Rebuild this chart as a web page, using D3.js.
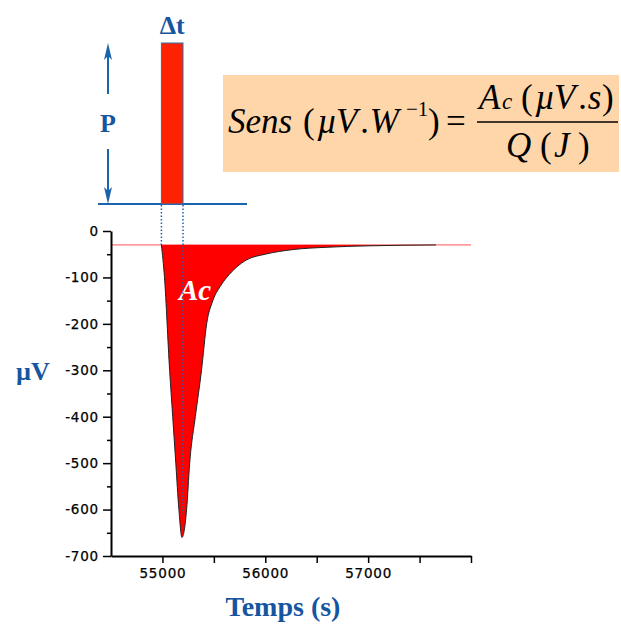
<!DOCTYPE html>
<html>
<head>
<meta charset="utf-8">
<script src="https://cdn.jsdelivr.net/npm/d3@7"></script>
<style>
  body { margin: 0; background: #fff; }
  svg text { font-family: "Liberation Sans", Arial, sans-serif; }
  .tick text { font-family: "DejaVu Sans", Verdana, sans-serif; font-size: 13.5px; fill: #000; letter-spacing: 0.8px; stroke: #000; stroke-width: 0.25px; }
  .serif { font-family: "Liberation Serif", "Times New Roman", serif !important; }
</style>
</head>
<body>
<div id="chart"></div>
<script>
(function() {

    var width = 621, height = 625;

    // signal
    var temps = [54500, 54990, 55020, 55070, 55100, 55130, 55160, 55190, 55235, 55265, 55320,
                 55380, 55430, 55490, 55560, 55625, 55720, 55820, 56000, 56270, 56600, 57000, 57660];
    var signal = [-30, -30, -100, -300, -400, -500, -600, -660, -600, -500, -400,
                  -300, -200, -150, -120, -100, -78, -62, -50, -40, -35, -32, -30];
    var baseline = -30;
    var pulseStart = 54990, pulseEnd = 55200;

    var yMajor = [0, -100, -200, -300, -400, -500, -600, -700];
    var yMinor = [-50, -150, -250, -350, -450, -550, -650];
    var xMajor = [55000, 56000, 57000];
    var xMinor = [55500, 56500, 57500, 58000];

    var blue = "#1a64ad", textBlue = "#1655a0";

    var svg = d3.select("#chart").append("svg")
        .attr("width", width)
        .attr("height", height);

    var x = d3.scaleLinear().domain([54500, 58000]).range([111, 471]);
    var y = d3.scaleLinear().domain([-700, 0]).range([556, 231]);

    var pts = temps.map(function(t, i) { return [t, signal[i]]; });

    // red baseline
    svg.append("line")
        .attr("x1", x(54500)).attr("x2", x(58000))
        .attr("y1", y(baseline)).attr("y2", y(baseline))
        .attr("stroke", "#ff5050").attr("stroke-width", 1);

    var area = d3.area()
        .x(function(d) { return x(d[0]); })
        .y0(y(baseline))
        .y1(function(d) { return y(d[1]); })
        .curve(d3.curveMonotoneX);

    svg.append("path")
        .datum(pts.slice(1))
        .attr("d", area)
        .attr("fill", "#ff0000");

    var line = d3.line()
        .x(function(d) { return x(d[0]); })
        .y(function(d) { return y(d[1]); })
        .curve(d3.curveMonotoneX);

    svg.append("path")
        .datum(pts.slice(1))
        .attr("d", line)
        .attr("fill", "none")
        .attr("stroke", "#222")
        .attr("stroke-width", 1);

    svg.append("text")
        .attr("class", "serif")
        .attr("x", 179).attr("y", 300)
        .attr("fill", "#fff")
        .attr("font-size", 29)
        .attr("font-style", "italic")
        .attr("font-weight", "bold")
        .text("Ac");

    // axes
    var fmt = function(d) { return String(d); };   // plain hyphen minus

    svg.append("g").attr("transform", "translate(" + x(54500) + ",0)")
        .call(d3.axisLeft(y).tickValues(yMajor).tickSize(8).tickSizeOuter(0).tickPadding(4).tickFormat(fmt));
    svg.append("g").attr("transform", "translate(" + x(54500) + ",0)")
        .call(d3.axisLeft(y).tickValues(yMinor).tickSize(4).tickFormat(""))
        .select(".domain").remove();

    svg.append("g").attr("transform", "translate(0," + y(-700) + ")")
        .call(d3.axisBottom(x).tickValues(xMajor).tickSize(7).tickSizeOuter(0).tickPadding(5).tickFormat(fmt));
    svg.append("g").attr("transform", "translate(0," + y(-700) + ")")
        .call(d3.axisBottom(x).tickValues(xMinor).tickSize(7).tickFormat(""))
        .select(".domain").remove();

    svg.selectAll(".domain").attr("stroke-width", 2);
    svg.selectAll(".tick line").attr("stroke-width", 1.5);

    // pulse sketch
    var pulseTop = 43, pulseBase = 204;

    svg.append("line")
        .attr("x1", 98).attr("x2", 247)
        .attr("y1", pulseBase).attr("y2", pulseBase)
        .attr("stroke", blue).attr("stroke-width", 2);

    svg.append("rect")
        .attr("x", x(pulseStart)).attr("y", pulseTop)
        .attr("width", x(pulseEnd) - x(pulseStart))
        .attr("height", pulseBase - pulseTop)
        .attr("fill", "#ff2200")
        .attr("stroke", "#2d6fb0").attr("stroke-width", 1);

    svg.append("line")
        .attr("x1", x(pulseStart)).attr("x2", x(pulseStart))
        .attr("y1", pulseBase + 1).attr("y2", y(baseline))
        .attr("stroke", blue).attr("stroke-width", 1.5).attr("stroke-dasharray", "1.5,2");
    svg.append("line")
        .attr("x1", x(pulseEnd)).attr("x2", x(pulseEnd))
        .attr("y1", pulseBase + 1).attr("y2", y(-610))
        .attr("stroke", blue).attr("stroke-width", 1.5).attr("stroke-dasharray", "1.5,2");

    // P arrows
    var ax = 108;
    svg.append("line").attr("x1", ax).attr("x2", ax).attr("y1", 52).attr("y2", 94)
        .attr("stroke", blue).attr("stroke-width", 2);
    svg.append("line").attr("x1", ax).attr("x2", ax).attr("y1", 149).attr("y2", 195)
        .attr("stroke", blue).attr("stroke-width", 2);
    svg.append("path")
        .attr("d", "M" + ax + ",43 L" + (ax + 4) + ",60 L" + ax + ",56 L" + (ax - 4) + ",60 Z")
        .attr("fill", blue);
    svg.append("path")
        .attr("d", "M" + ax + ",204 L" + (ax + 4) + ",187 L" + ax + ",191 L" + (ax - 4) + ",187 Z")
        .attr("fill", blue);

    svg.append("text").attr("class", "serif")
        .attr("x", ax).attr("y", 132)
        .attr("text-anchor", "middle")
        .attr("font-size", 26).attr("font-weight", "bold")
        .attr("fill", textBlue).text("P");

    svg.append("text").attr("class", "serif")
        .attr("x", (x(pulseStart) + x(pulseEnd)) / 2).attr("y", 34)
        .attr("text-anchor", "middle")
        .attr("font-size", 26).attr("font-weight", "bold")
        .attr("fill", textBlue).text("Δt");

    // axis titles
    svg.append("text").attr("class", "serif")
        .attr("x", 33).attr("y", 380)
        .attr("text-anchor", "middle")
        .attr("font-size", 26).attr("font-weight", "bold")
        .attr("fill", textBlue).text("µV");

    svg.append("text").attr("class", "serif")
        .attr("x", 283).attr("y", 616)
        .attr("text-anchor", "middle")
        .attr("font-size", 28).attr("font-weight", "bold")
        .attr("fill", textBlue).text("Temps (s)");

    // formula box
    var box = svg.append("g");
    box.append("rect")
        .attr("x", 223).attr("y", 75)
        .attr("width", 396).attr("height", 97)
        .attr("fill", "#ffd6a9");

    function word(s, xx, yy, size, italic) {
        return box.append("text").attr("class", "serif")
            .attr("x", xx).attr("y", yy)
            .attr("font-size", size)
            .attr("font-style", italic ? "italic" : "normal")
            .attr("fill", "#000")
            .text(s);
    }

    word("Sens", 228, 133, 35, true);
    word("(", 303, 133, 35, false);
    word("µ", 317, 133, 35, true);
    word("V", 336, 133, 35, true);
    word(".W", 361, 133, 35, true);
    word("−1", 406, 116, 21, false);
    word(")", 428, 133, 35, false);
    word("=", 446, 133, 35, false);

    box.append("line")
        .attr("x1", 477).attr("x2", 618)
        .attr("y1", 122).attr("y2", 122)
        .attr("stroke", "#000").attr("stroke-width", 1.5);

    word("A", 479, 109, 35, true);
    word("c", 502, 109, 23, true);
    word("(", 521, 109, 35, false);
    word("µ", 535, 109, 35, true);
    word("V", 554, 109, 35, true);
    word(".s", 579, 109, 35, true);
    word(")", 602, 109, 35, false);

    word("Q", 506, 157, 35, true);
    word("(", 540, 157, 35, false);
    word("J", 554, 157, 35, true);
    word(")", 578, 157, 35, false);

})();
</script>
</body>
</html>
